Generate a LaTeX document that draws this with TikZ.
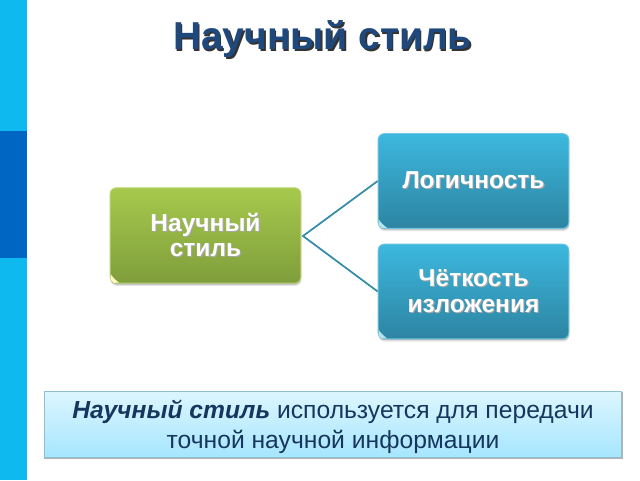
\documentclass[tikz,border=0pt]{standalone}
\usepackage{fontspec}
\setmainfont{Liberation Sans}
\usetikzlibrary{calc}
\definecolor{sidecyan}{HTML}{0DB9EF}
\definecolor{sideblue}{HTML}{0066C4}
\definecolor{titleblue}{HTML}{1F497D}
\definecolor{navy}{HTML}{17365D}
\definecolor{linkblue}{HTML}{338CA8}
\definecolor{greentop}{HTML}{A6C94C}
\definecolor{greenbot}{HTML}{7F9E3C}
\definecolor{greenrim}{HTML}{B9D470}
\definecolor{bluetop}{HTML}{3CB8DE}
\definecolor{bluebot}{HTML}{2D84A2}
\definecolor{bluerim}{HTML}{6CC6E2}
\definecolor{notetop}{HTML}{DDF6FF}
\definecolor{notebot}{HTML}{A6E6FF}
\definecolor{noterim}{HTML}{8FBFD0}
\newcommand{\shtext}[4]{\leavevmode\rlap{\kern#2\raisebox{-#3}{\textcolor{#1}{#4}}}#4}
\newcommand{\boxtext}[1]{\shtext{black!35}{0.8pt}{0.8pt}{#1}}
\newcommand{\glint}[2]{\fill[#2] ($(#1.south west)+(0.8pt,7pt)$) .. controls ($(#1.south west)+(2.4pt,4.6pt)$) and ($(#1.south west)+(4.6pt,2.4pt)$) .. ($(#1.south west)+(7pt,0.8pt)$) -- ($(#1.south west)+(3pt,.6pt)$) -- ($(#1.south west)+(.6pt,3pt)$) -- cycle;}
\tikzset{
  x=0.75pt,y=-0.75pt,
  boxbase/.style={rounded corners=4.5pt,minimum width=143pt,minimum height=71.5pt,line width=0.7pt,inner sep=0pt,
    font=\fontsize{18.4pt}{19pt}\selectfont\bfseries,text=white,align=center,
    preaction={fill=black!30,opacity=.35,transform canvas={yshift=-2pt,xshift=.4pt}},
    preaction={fill=black!45,opacity=.5,transform canvas={yshift=-1pt,xshift=.2pt}}},
  greenbox/.style={boxbase,draw=greenrim,top color=greentop,bottom color=greenbot},
  bluebox/.style={boxbase,draw=bluerim,top color=bluetop,bottom color=bluebot},
  link/.style={draw=linkblue,line width=1.3pt},
}
\begin{document}
\begin{tikzpicture}
\useasboundingbox (0,0) rectangle (640,480);
\fill[white] (0,0) rectangle (640,480);
\fill[sidecyan] (0,0) rectangle (27,480);
\fill[sideblue] (0,131) rectangle (27,258);

\node[font=\fontsize{29.2pt}{34pt}\selectfont\bfseries,text=titleblue,inner sep=0pt] (title) at (322.5,40)
  {\shtext{black!80}{1.2pt}{1.2pt}{Научный стиль}};

\node[greenbox] (main) at (205.5,235.5) {\boxtext{Научный}\\\boxtext{стиль}};
\node[bluebox,minimum height=71pt] (logic) at (473.5,181) {\boxtext{Логичность}};
\node[bluebox,minimum height=71pt] (clear) at (473.5,291.5) {\boxtext{Чёткость}\\\boxtext{изложения}};

\coordinate (fork) at (303,236);
\draw[link] (logic.west) -- (fork) -- (clear.west);

\glint{main}{white!75!yellow}
\glint{logic}{bluerim!50!white}
\glint{clear}{bluerim!50!white}

\fill[black!50,opacity=.6] (44,392) rectangle (622.5,459);
\node[draw=noterim,line width=0.6pt,top color=notetop,bottom color=notebot,
  minimum width=433pt,minimum height=49.5pt,inner sep=0pt,align=center,text=navy,
  font=\fontsize{18.5pt}{22.5pt}\selectfont] (note) at (333,424)
  {\rule{0pt}{18.5pt}\textbf{\textit{Научный стиль}} используется для передачи\\точной научной информации};
\end{tikzpicture}
\end{document}
